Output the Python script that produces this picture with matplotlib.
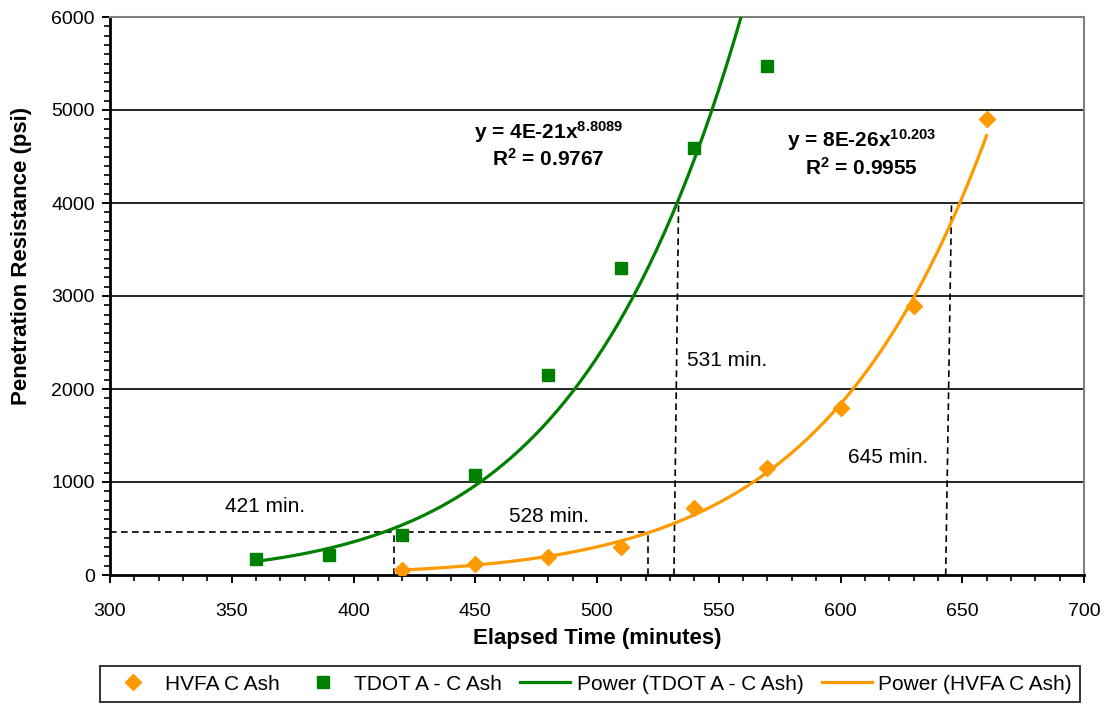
import numpy as np
import matplotlib
matplotlib.use("Agg")
import matplotlib.pyplot as plt

plt.rcParams["font.family"] = ["Liberation Sans", "DejaVu Sans"]
plt.rcParams["mathtext.fontset"] = "custom"
plt.rcParams["mathtext.rm"] = "Liberation Sans:bold"
plt.rcParams["mathtext.it"] = "Liberation Sans:bold"
plt.rcParams["mathtext.bf"] = "Liberation Sans:bold"

# --- data --------------------------------------------------------------------
tdot_time = [360, 390, 420, 450, 480, 510, 540, 570]
tdot_psi = [175, 218, 430, 1077, 2154, 3300, 4590, 5476]

hvfa_time = [420, 450, 480, 510, 540, 570, 600, 630, 660]
hvfa_psi = [54, 115, 197, 305, 720, 1149, 1796, 2890, 4900]

# set-time construction lines as drawn (bottom x, top x, level psi)
initial_psi = 466
final_psi = 4000
initial_x = [416.6, 521.0]
final_x = [(531.6, 533.5), (643.2, 645.6)]

set_labels = ["421 min.", "528 min.", "531 min.", "645 min."]
set_label_pos = [(363.7, 733), (480.3, 625), (553.4, 2305), (619.5, 1260)]

eq_tdot = ["y = 4E-21x$^{8.8089}$", "R$^{2}$ = 0.9767"]
eq_hvfa = ["y = 8E-26x$^{10.203}$", "R$^{2}$ = 0.9955"]

GREEN = "#008000"
ORANGE = "#FF9900"


def power_fit(x, y):
    b, ln_a = np.polyfit(np.log(x), np.log(y), 1)
    xs = np.linspace(min(x), max(x), 200)
    return xs, np.exp(ln_a) * xs ** b


fig = plt.figure(figsize=(11.07, 7.04), dpi=100)
ax = fig.add_axes([110 / 1107, 1 - 575 / 704, 974 / 1107, 558 / 704])

ax.set_xlim(300, 700)
ax.set_ylim(0, 6000)
ax.set_xticks(np.arange(300, 701, 50))
ax.set_xticks(np.arange(300, 701, 10), minor=True)
ax.set_yticks(np.arange(0, 6001, 1000))
ax.set_yticks(np.arange(0, 6001, 100), minor=True)
ax.tick_params(which="major", direction="out", length=6, width=1.4,
               labelsize=14, color="black")
ax.tick_params(which="minor", direction="out", length=4, width=1.2,
               color="black")
ax.tick_params(axis="x", which="major", pad=14)
ax.tick_params(axis="y", which="major", pad=5)

for y in range(1000, 6000, 1000):
    ax.axhline(y, color="black", lw=1.2, zorder=1)

for s in ["left", "bottom"]:
    ax.spines[s].set_color("black")
    ax.spines[s].set_linewidth(2.0)
for s in ["top", "right"]:
    ax.spines[s].set_color("#808080")
    ax.spines[s].set_linewidth(1.5)

# dashed set-time lines
dash = dict(color="black", lw=1.2, linestyle=(0, (4, 2.6)), zorder=2)
ax.plot([300, initial_x[1]], [initial_psi, initial_psi], **dash)
for xv in initial_x:
    ax.plot([xv, xv], [0, initial_psi], **dash)
for xb, xt in final_x:
    ax.plot([xb, xt], [0, final_psi], **dash)

# data
ax.plot(hvfa_time, hvfa_psi, linestyle="none", marker="D", ms=8.5,
        color=ORANGE, label="HVFA C Ash", zorder=3)
ax.plot(tdot_time, tdot_psi, linestyle="none", marker="s", ms=8.4,
        color=GREEN, label="TDOT A - C Ash", zorder=3)

xs, ys = power_fit(tdot_time, tdot_psi)
ax.plot(xs, ys, color=GREEN, lw=2.3, label="Power (TDOT A - C Ash)", zorder=4)
xs, ys = power_fit(hvfa_time, hvfa_psi)
ax.plot(xs, ys, color=ORANGE, lw=2.3, label="Power (HVFA C Ash)", zorder=4)

for txt, (tx, ty) in zip(set_labels, set_label_pos):
    ax.text(tx, ty, txt, fontsize=15, ha="center", va="center")

ax.text(479.9, 4761, eq_tdot[0], fontsize=15, fontweight="bold",
        ha="center", va="center")
ax.text(479.9, 4471, eq_tdot[1], fontsize=15, fontweight="bold",
        ha="center", va="center")
ax.text(608.8, 4675, eq_hvfa[0], fontsize=15, fontweight="bold",
        ha="center", va="center")
ax.text(608.8, 4374, eq_hvfa[1], fontsize=15, fontweight="bold",
        ha="center", va="center")

ax.set_xlabel("Elapsed Time (minutes)", fontsize=16, fontweight="bold")
ax.set_ylabel("Penetration Resistance (psi)", fontsize=16, fontweight="bold")
ax.xaxis.set_label_coords(0.5, -0.095)
ax.yaxis.set_label_coords(-0.080, 0.571)

leg = fig.legend(loc="lower left", ncol=4, mode="expand",
                 bbox_to_anchor=(100 / 1107, 2 / 704, 980 / 1107, 40 / 704),
                 fontsize=15, frameon=True, fancybox=False, shadow=False,
                 handlelength=2.4, handletextpad=0.3, borderaxespad=0,
                 borderpad=0.4)
leg.get_frame().set_edgecolor("black")
leg.get_frame().set_linewidth(1.4)

fig.savefig("out.png", dpi=100)
